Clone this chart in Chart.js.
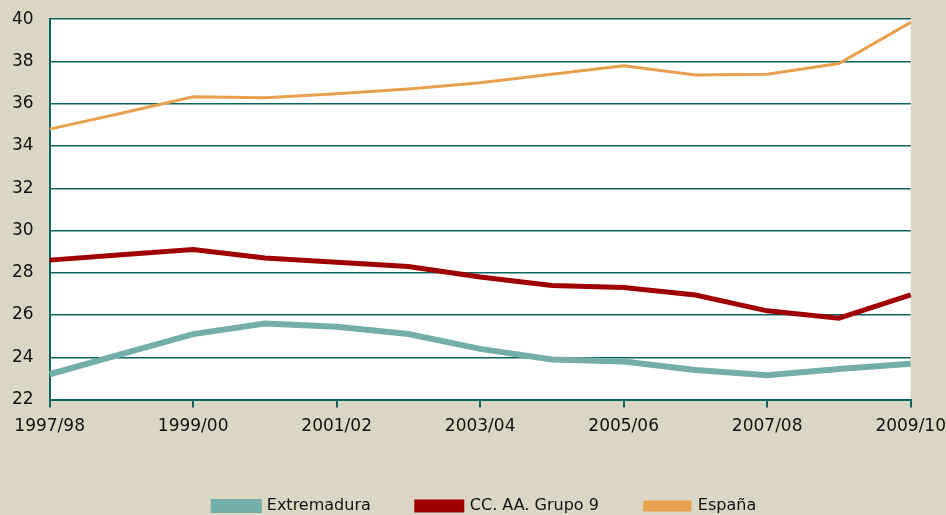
<!DOCTYPE html>
<html>
<head>
<meta charset="utf-8">
<script src="https://cdn.jsdelivr.net/npm/chart.js@4"></script>
<style>
  html, body { margin: 0; padding: 0; background: #dbd5c4; overflow: hidden; }
  #wrap { width: 955px; height: 522px; margin-top: -7px; }
</style>
</head>
<body>
<div id="wrap"><canvas id="line_chart"></canvas></div>
<script>
const cursos = ['1997/98', '1998/99', '1999/00', '2000/01', '2001/02', '2002/03', '2003/04',
    '2004/05', '2005/06', '2006/07', '2007/08', '2008/09', '2009/10'];
const extremadura = [23.2, 24.15, 25.1, 25.6, 25.45, 25.1, 24.4, 23.9, 23.8, 23.4, 23.15, 23.45, 23.7];
const grupo9 = [28.6, 28.85, 29.1, 28.7, 28.5, 28.3, 27.8, 27.4, 27.3, 26.95, 26.2, 25.85, 26.95];
const espana = [34.8, 35.55, 36.33, 36.28, 36.47, 36.7, 36.99, 37.4, 37.8, 37.36, 37.4, 37.9, 39.85];
const yTicks = [22, 24, 26, 28, 30, 32, 34, 36, 38, 40];

const gridColor = '#0b6660';
const font = { family: 'DejaVu Sans', size: 17 };

// plot area background (white)
const plotBg = {
    id: 'plotBg',
    beforeDraw(chart) {
        const { ctx, chartArea: a } = chart;
        ctx.save();
        ctx.fillStyle = '#ffffff';
        ctx.fillRect(a.left, a.top, a.right - a.left, a.bottom - a.top);
        ctx.restore();
    }
};

// nudge the legend a bit to the right
const legendShift = {
    id: 'legendShift',
    afterLayout(chart) {
        chart.legend.left += 5;
        chart.legend.right += 5;
    }
};

const ctx = document.getElementById('line_chart').getContext('2d');
const myChart = new Chart(ctx, {
    type: 'line',
    data: {
        labels: cursos,
        datasets: [{
                label: 'Extremadura',
                data: extremadura,
                borderColor: '#74aeab',
                backgroundColor: '#74aeab',
                borderWidth: 6,
            },
            {
                label: 'CC. AA. Grupo 9',
                data: grupo9,
                borderColor: '#a00000',
                backgroundColor: '#a00000',
                borderWidth: 5,
            },
            {
                label: 'España',
                data: espana,
                borderColor: '#e9a04e',
                backgroundColor: '#e9a04e',
                borderWidth: 3,
            },
        ]
    },
    options: {
        responsive: true,
        maintainAspectRatio: false,
        animation: false,
        elements: { point: { radius: 0 }, line: { tension: 0 } },
        layout: { padding: { left: -4, right: -9, top: -6, bottom: -9 } },
        plugins: {
            tooltip: { enabled: false },
            legend: {
                position: 'bottom',
                labels: {
                    color: '#111',
                    font: { family: 'DejaVu Sans', size: 16 },
                    boxWidth: 45,
                    boxHeight: 8,
                    padding: 46,
                }
            }
        },
        scales: {
            x: {
                offset: false,
                border: { color: gridColor, width: 2 },
                grid: {
                    drawOnChartArea: false,
                    tickLength: 8,
                    tickColor: c => (c.index % 2 === 0 ? gridColor : 'rgba(0,0,0,0)'),
                    lineWidth: 2,
                },
                ticks: {
                    color: '#111',
                    font: font,
                    autoSkip: false,
                    maxRotation: 0,
                    padding: 9,
                    callback: (v, i) => (i % 2 === 0 ? cursos[i] : ''),
                },
                afterFit: axis => { axis.height += 6; }
            },
            y: {
                min: 22,
                max: 40,
                border: { color: gridColor, width: 2 },
                afterBuildTicks: axis => { axis.ticks = yTicks.map(v => ({ value: v })); },
                grid: { color: gridColor, lineWidth: 1.5, drawTicks: false },
                ticks: { color: '#111', font: font, padding: 16 }
            }
        }
    },
    plugins: [plotBg, legendShift]
});
</script>
</body>
</html>
